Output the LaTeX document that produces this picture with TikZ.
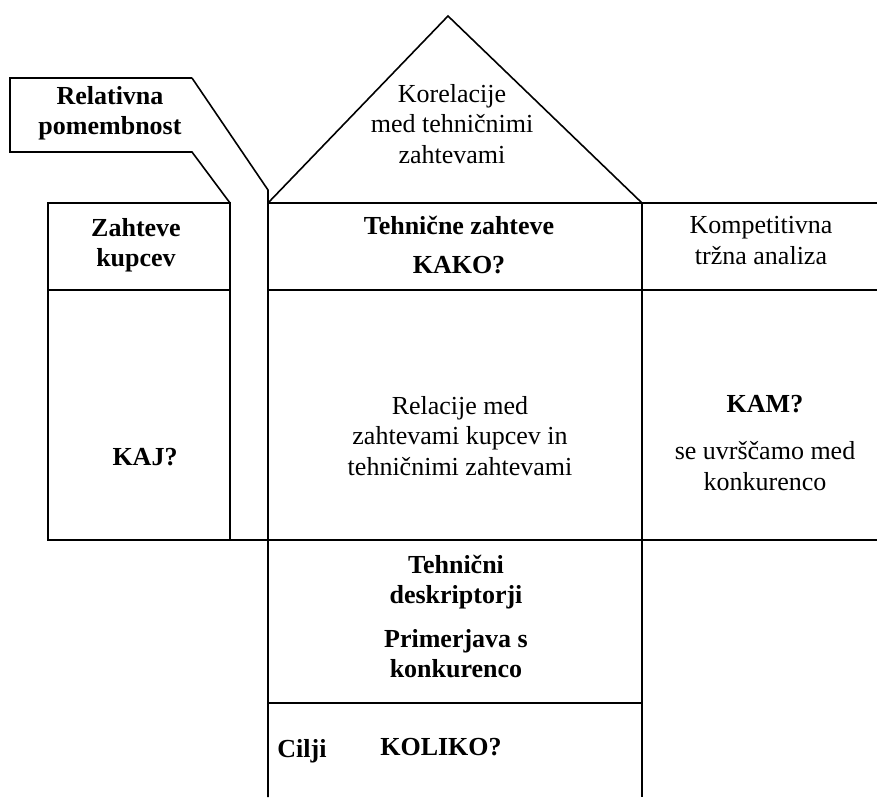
\documentclass[tikz,border=0pt]{standalone}
\usepackage{fontspec}
\setmainfont{Liberation Serif}
% first-line strut: puts the top of every label 20pt above its first baseline
\newcommand\tp{\rule{0pt}{20pt}}
\tikzset{
  wall/.style={line width=1.6pt, line join=miter},
  lbl/.style={anchor=north, align=center, inner sep=0pt,
              font=\fontsize{26}{30.5}\selectfont},
  blbl/.style={lbl, font=\fontsize{26}{30.5}\selectfont\bfseries},
}
\begin{document}
\begin{tikzpicture}[x=1pt, y=-1pt]
\useasboundingbox (0,0) rectangle (877,797);

% "Relativna pomembnost" chimney
\draw[wall] (192,78) -- (10,78) -- (10,152) -- (192,152) -- (230,203);
\draw[wall] (192,78) -- (268,190) -- (268,797);

% roof
\draw[wall] (268,203) -- (448,16) -- (642,203);

% customer requirements column
\draw[wall] (48,203) rectangle (230,540);
\draw[wall] (48,290) -- (230,290);

% main body
\draw[wall] (268,203) -- (877,203);
\draw[wall] (268,290) -- (877,290);
\draw[wall] (48,540) -- (877,540);
\draw[wall] (642,203) -- (642,797);
\draw[wall] (268,703) -- (642,703);

% labels
\node[blbl] (relpom) at (110,84) {\tp Relativna\\pomembnost};
\node[lbl]  (korel)  at (452,82) {\tp Korelacije\\med tehničnimi\\zahtevami};
\node[blbl] (zahkup) at (136,216) {\tp Zahteve\\kupcev};
\node[blbl] (tehzah) at (459,214) {\tp Tehnične zahteve\\[9pt]KAKO?};
\node[lbl, font=\fontsize{26}{31}\selectfont] (kompet) at (761,213)
  {\tp Kompetitivna\\tržna analiza};
\node[lbl]  (relac)  at (460,394) {\tp Relacije med\\zahtevami kupcev in\\tehničnimi zahtevami};
\node[blbl] (kaj)    at (145,445) {\tp KAJ?};
\node[lbl, font=\fontsize{26}{31}\selectfont] (kam) at (765,392)
  {\tp\textbf{KAM?}\\[16pt]se uvrščamo med\\konkurenco};
\node[blbl, font=\fontsize{26}{30}\selectfont\bfseries] (tehdes) at (456,553)
  {\tp Tehnični\\deskriptorji\\[14pt]Primerjava s\\konkurenco};
\node[blbl] (cilji)  at (302,737) {\tp Cilji};
\node[blbl] (koliko) at (441,735) {\tp KOLIKO?};
\end{tikzpicture}
\end{document}
